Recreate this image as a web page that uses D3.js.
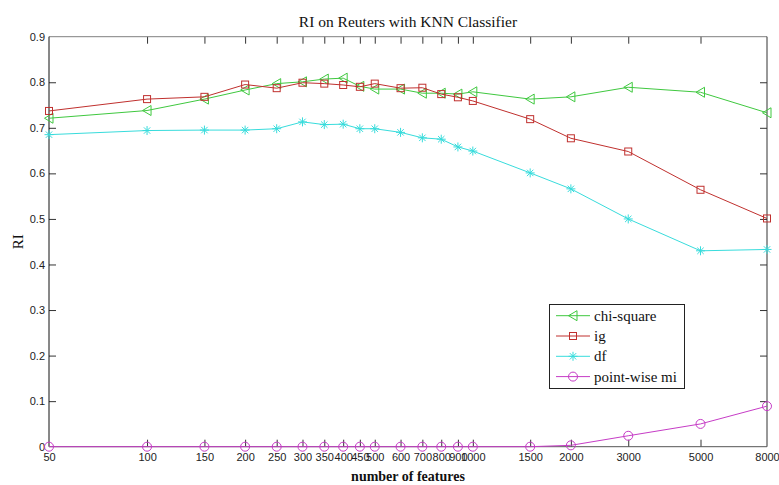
<!DOCTYPE html>
<html>
<head>
<meta charset="utf-8">
<script src="https://cdn.jsdelivr.net/npm/d3@7"></script>
<style>
  html, body { margin: 0; padding: 0; background: #fff; }
  svg { display: block; }
</style>
</head>
<body>
<svg id="chart" width="779" height="485"></svg>
<script>
// Number of features (log-scaled x axis)
const features = [50, 100, 150, 200, 250, 300, 350, 400, 450, 500, 600, 700, 800, 900, 1000, 1500, 2000, 3000, 5000, 8000];

// RI per feature-selection method
const chiSquare = [0.721, 0.738, 0.763, 0.783, 0.797, 0.801, 0.807, 0.809, 0.791, 0.785, 0.785, 0.776, 0.776, 0.774, 0.779, 0.763, 0.768, 0.789, 0.778, 0.733];
const ig        = [0.737, 0.763, 0.768, 0.795, 0.787, 0.799, 0.797, 0.794, 0.790, 0.797, 0.787, 0.788, 0.774, 0.767, 0.759, 0.719, 0.677, 0.648, 0.564, 0.501];
const df        = [0.685, 0.694, 0.695, 0.695, 0.698, 0.713, 0.707, 0.708, 0.698, 0.698, 0.690, 0.678, 0.675, 0.658, 0.649, 0.601, 0.566, 0.500, 0.430, 0.433];
const pointWise = [0.000, 0.000, 0.000, 0.000, 0.000, 0.000, 0.000, 0.000, 0.000, 0.000, 0.000, 0.000, 0.000, 0.000, 0.000, 0.000, 0.003, 0.024, 0.050, 0.089];

const seriesNames = ["chi-square", "ig", "df", "point-wise mi"];
const yTicks = [0, 0.1, 0.2, 0.3, 0.4, 0.5, 0.6, 0.7, 0.8, 0.9];

const series = [
  { name: seriesNames[0], values: chiSquare, color: "#3fc83f", marker: "triangle" },
  { name: seriesNames[1], values: ig,        color: "#c0302e", marker: "square" },
  { name: seriesNames[2], values: df,        color: "#38dcdc", marker: "star" },
  { name: seriesNames[3], values: pointWise, color: "#c63cc6", marker: "circle" }
];

const svg = d3.select("#chart");
const W = 779, H = 485;
const plotL = 49, plotR = 767, plotT = 36.7, plotB = 446.7;

svg.append("rect").attr("width", W).attr("height", H).attr("fill", "#fff");

const x = d3.scaleLog().domain([50, 8000]).range([plotL, plotR]);
const y = d3.scaleLinear().domain([0, 0.9]).range([plotB, plotT]);

const tickLen = 7;
const tickFont = "Liberation Sans, Arial, sans-serif";
const serif = "Liberation Serif, Times New Roman, serif";

// Bottom axis with inward ticks
const xAxisBottom = d3.axisBottom(x).tickValues(features).tickFormat(d3.format("d"))
  .tickSizeInner(-tickLen).tickSizeOuter(0).tickPadding(7);
const gxb = svg.append("g").attr("transform", `translate(0,${plotB})`).call(xAxisBottom);
gxb.select(".domain").remove();
gxb.selectAll("line").attr("stroke", "#333");
gxb.selectAll("text").attr("font-family", tickFont).attr("font-size", 11).attr("fill", "#222");
gxb.selectAll(".tick").filter(d => d === 50 || d === 8000).select("line").remove();

// Top axis mirror ticks
const xAxisTop = d3.axisTop(x).tickValues(features).tickFormat("")
  .tickSizeInner(-tickLen).tickSizeOuter(0);
const gxt = svg.append("g").attr("transform", `translate(0,${plotT})`).call(xAxisTop);
gxt.select(".domain").remove();
gxt.selectAll("line").attr("stroke", "#333");
gxt.selectAll(".tick").filter(d => d === 50 || d === 8000).select("line").remove();

// Left axis
const yAxisLeft = d3.axisLeft(y).tickValues(yTicks).tickFormat(d => d === 0 ? "0" : d3.format(".1f")(d))
  .tickSizeInner(-tickLen).tickSizeOuter(0).tickPadding(4);
const gyl = svg.append("g").attr("transform", `translate(${plotL},0)`).call(yAxisLeft);
gyl.select(".domain").remove();
gyl.selectAll("line").attr("stroke", "#333");
gyl.selectAll("text").attr("font-family", tickFont).attr("font-size", 11).attr("fill", "#222")
  .attr("x", -4);
gyl.selectAll(".tick").filter(d => d === 0.9 || d === 0).select("line").remove();

// Right axis mirror ticks
const yAxisRight = d3.axisRight(y).tickValues(yTicks).tickFormat("")
  .tickSizeInner(-tickLen).tickSizeOuter(0);
const gyr = svg.append("g").attr("transform", `translate(${plotR},0)`).call(yAxisRight);
gyr.select(".domain").remove();
gyr.selectAll("line").attr("stroke", "#333");
gyr.selectAll(".tick").filter(d => d === 0.9 || d === 0).select("line").remove();

// Axes box
svg.append("line").attr("x1", plotL).attr("x2", plotR).attr("y1", plotT).attr("y2", plotT).attr("stroke", "#808080");
svg.append("line").attr("x1", plotR).attr("x2", plotR).attr("y1", plotT).attr("y2", plotB).attr("stroke", "#333");
svg.append("line").attr("x1", plotL).attr("x2", plotR).attr("y1", plotB).attr("y2", plotB).attr("stroke", "#555");
svg.append("line").attr("x1", plotL).attr("x2", plotL).attr("y1", plotT).attr("y2", plotB).attr("stroke", "#111");

// Marker drawing
function drawMarker(g, type, cx, cy, color) {
  if (type === "triangle") {
    g.append("path")
      .attr("d", `M${cx - 4.5},${cy} L${cx + 4},${cy - 5} L${cx + 4},${cy + 5} Z`)
      .attr("fill", "none").attr("stroke", color).attr("stroke-width", 1);
  } else if (type === "square") {
    g.append("rect").attr("x", cx - 3.5).attr("y", cy - 3.5).attr("width", 7).attr("height", 7)
      .attr("fill", "none").attr("stroke", color).attr("stroke-width", 1);
  } else if (type === "circle") {
    g.append("circle").attr("cx", cx).attr("cy", cy).attr("r", 4.5)
      .attr("fill", "none").attr("stroke", color).attr("stroke-width", 1);
  } else if (type === "star") {
    const r = 4.5, d = 3.2;
    g.append("path")
      .attr("d", `M${cx - r},${cy} L${cx + r},${cy} M${cx},${cy - r} L${cx},${cy + r} M${cx - d},${cy - d} L${cx + d},${cy + d} M${cx - d},${cy + d} L${cx + d},${cy - d}`)
      .attr("fill", "none").attr("stroke", color).attr("stroke-width", 1);
  }
}

const line = d3.line().x((d, i) => x(features[i])).y(d => y(d));

series.forEach(s => {
  const g = svg.append("g");
  g.append("path").datum(s.values).attr("d", line)
    .attr("fill", "none").attr("stroke", s.color).attr("stroke-width", 1);
  s.values.forEach((v, i) => drawMarker(g, s.marker, x(features[i]), y(v), s.color));
});

// Title and axis labels
svg.append("text").attr("x", (plotL + plotR) / 2).attr("y", 27).attr("text-anchor", "middle")
  .attr("font-family", serif).attr("font-size", 15.5).attr("fill", "#111")
  .text("RI on Reuters with KNN Classifier");

svg.append("text").attr("x", (plotL + plotR) / 2).attr("y", 481).attr("text-anchor", "middle")
  .attr("font-family", serif).attr("font-size", 14).attr("font-weight", "bold").attr("fill", "#111")
  .text("number of features");

svg.append("text").attr("transform", `translate(23,${(plotT + plotB) / 2}) rotate(-90)`)
  .attr("text-anchor", "middle")
  .attr("font-family", serif).attr("font-size", 15).attr("fill", "#111")
  .text("RI");

// Legend
const lg = svg.append("g");
lg.append("rect").attr("x", 549.5).attr("y", 304.5).attr("width", 135).attr("height", 84)
  .attr("fill", "#fff").attr("stroke", "#222").attr("stroke-width", 1);
series.forEach((s, i) => {
  const ly = 315.7 + i * 20.3;
  lg.append("line").attr("x1", 556).attr("x2", 590).attr("y1", ly).attr("y2", ly)
    .attr("stroke", s.color).attr("stroke-width", 1);
  drawMarker(lg, s.marker, 573, ly, s.color);
  lg.append("text").attr("x", 594).attr("y", ly + 5)
    .attr("font-family", serif).attr("font-size", 15).attr("fill", "#111")
    .text(s.name);
});
</script>
</body>
</html>
